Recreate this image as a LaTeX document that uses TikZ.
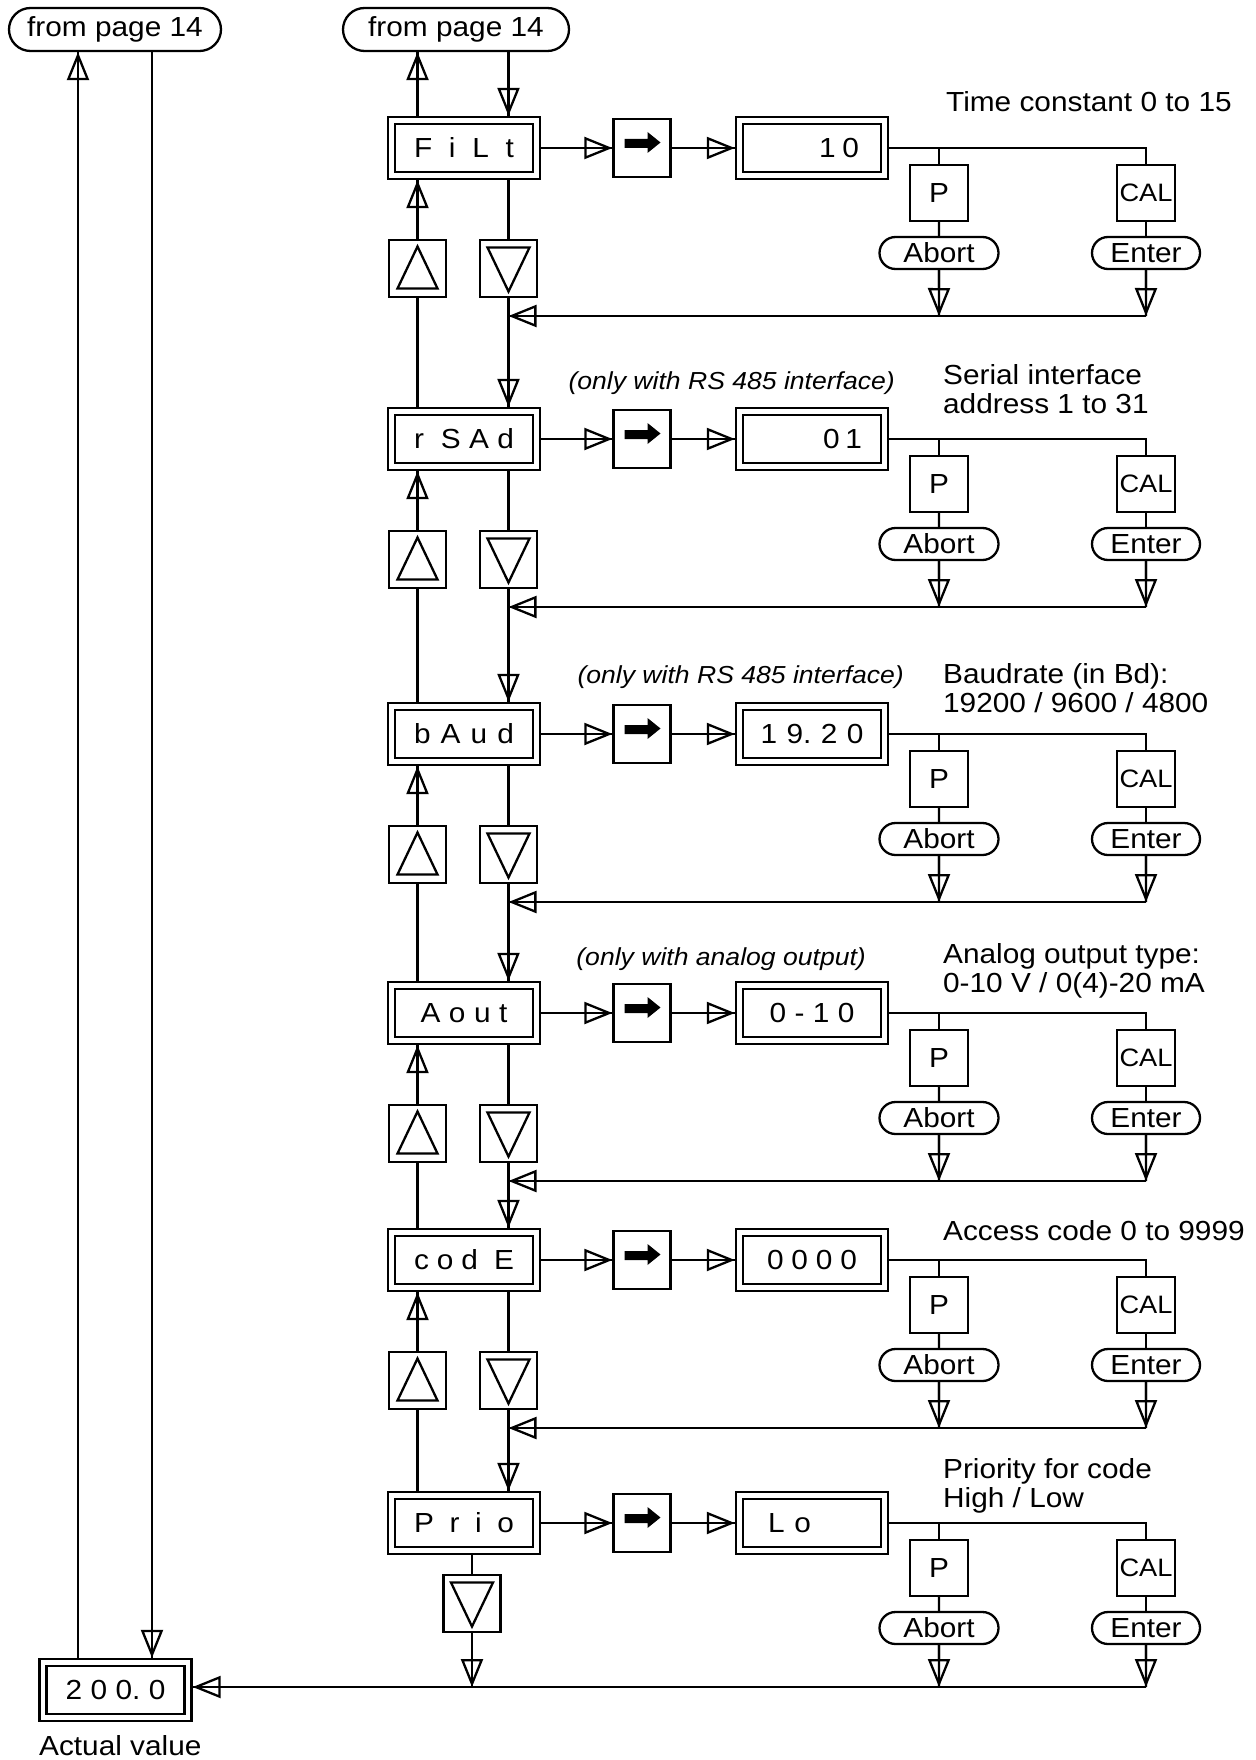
\documentclass[tikz,border=0pt]{standalone}
\usepackage{fontspec}
\setmainfont[FakeStretch=1.08]{Liberation Sans}
\usetikzlibrary{arrows.meta,shapes.misc}
\tikzset{
  menu/.style={draw, double, double distance=2.4pt, minimum width=72.5pt, minimum height=27.5pt, inner sep=0pt, outer sep=2.35pt},
  keybox/.style={draw, minimum width=28.5pt, minimum height=28.5pt, inner sep=0pt},
  gobox/.style={draw, minimum width=28.5pt, minimum height=29pt, inner sep=0pt},
  pbox/.style={draw, minimum width=29pt, minimum height=28pt, inner sep=0pt},
  pill/.style={draw, rounded rectangle, minimum height=16pt, inner sep=0pt},
  descr/.style={inner sep=0pt, align=left},
  note/.style={inner sep=0pt, font=\fontsize{12.3}{14}\selectfont\itshape},
  calkey/.style={pbox, font=\fontsize{12.6}{14}\selectfont},
  flow/.style={-{Triangle[open,length=14pt,width=11pt]}, postaction={draw,arrows=-}},
  upkey/.pic={\draw (0,-22) -- (20,20) -- (-20,20) -- cycle;},
  downkey/.pic={\draw (-21,-21) -- (21,-21) -- (0,23) -- cycle;},
  fatarrow/.pic={\fill (-17.5,-9) -- (5.5,-9) -- (5.5,-16) -- (18.5,-5.5) -- (5.5,5) -- (5.5,0) -- (-17.5,0) -- cycle;},
}

\begin{document}
\begin{tikzpicture}[x=0.5pt, y=-0.5pt, line width=1.15pt, font=\fontsize{13.8}{14.6}\selectfont]
\useasboundingbox (0,0) rectangle (1255,1760);

\node[pill, minimum width=106pt, minimum height=21.5pt] (frompl) at (115,29.5) {from page 14};
\node[pill, minimum width=113pt, minimum height=21.5pt] (frompr) at (456,29.5) {from page 14};
\node[menu] (act) at (115.5,1690) {\makebox[50pt][s]{2\hfill 0\hfill 0.\hfill 0}};
\node[descr, anchor=base west] (acttxt) at (38,1755) {Actual value};
\coordinate (actup) at (78,0);
\coordinate (actdn) at (152,0);
\draw[flow] (act.north -| actup) -- (frompl.south -| actup);
\draw[flow] (frompl.south -| actdn) -- (act.north -| actdn);

\node[menu] (filt) at (464,148) {\makebox[50pt][s]{F\hfill i\hfill L\hfill t}};
\node[keybox] (filtup) at (417.5,268.5) {};
\node[keybox] (filtdn) at (508.5,268.5) {};
\pic at (filtup) {upkey};
\pic at (filtdn) {downkey};
\node[gobox] (filtgo) at (642,148) {};
\pic at (filtgo) {fatarrow};
\node[menu] (filtval) at (812,148) {\makebox[47pt][r]{\makebox[20pt][s]{1\hfill 0}}};
\node[pbox] (filtp) at (939,193) {P};
\node[calkey] (filtcal) at (1146,193) {CAL};
\node[pill, minimum width=59.5pt] (filtab) at (939,253) {Abort};
\node[pill, minimum width=54pt] (filten) at (1146,253) {Enter};
\coordinate (filtret) at (508.5,316);
\node[descr, anchor=base west] (filttxt) at (945,112) {Time constant 0 to 15};
\draw[flow] (filt.north -| filtup) -- (frompr.south -| filtup);
\draw[flow] (frompr.south -| filtdn) -- (filt.north -| filtdn);
\draw[flow] (filt) -- (filtgo);
\draw[flow] (filtgo) -- (filtval);
\draw (filtval) -| (filtcal);
\draw (filtp) -- (filtp |- filtval);
\draw (filtp) -- (filtab);
\draw (filtcal) -- (filten);
\draw[flow] (filtab) -- (filtab |- filtret);
\draw[flow] (filten) -- (filten |- filtret);
\draw[flow] (filten |- filtret) -- (filtret);
\draw[flow] (filtup) -- (filtup |- filt.south);
\draw (filt.south -| filtdn) -- (filtdn);

\node[menu] (rsad) at (464,439) {\makebox[50pt][s]{r\hfill\hfill S\hfill A\hfill d}};
\node[keybox] (rsadup) at (417.5,559.5) {};
\node[keybox] (rsaddn) at (508.5,559.5) {};
\pic at (rsadup) {upkey};
\pic at (rsaddn) {downkey};
\node[gobox] (rsadgo) at (642,439) {};
\pic at (rsadgo) {fatarrow};
\node[menu] (rsadval) at (812,439) {\makebox[50pt][r]{\makebox[19.5pt][s]{0\hfill 1}}};
\node[pbox] (rsadp) at (939,484) {P};
\node[calkey] (rsadcal) at (1146,484) {CAL};
\node[pill, minimum width=59.5pt] (rsadab) at (939,544) {Abort};
\node[pill, minimum width=54pt] (rsaden) at (1146,544) {Enter};
\coordinate (rsadret) at (508.5,607);
\node[note, anchor=base east] (rsadnote) at (896,389) {(only with RS 485 interface)};
\node[descr, anchor=north west] (rsadtxt) at (942,363.5) {Serial interface\\address 1 to 31};
\draw (rsad.north -| filtup) -- (filtup);
\draw[flow] (filtdn) -- (rsad.north -| filtdn);
\draw[flow] (rsad) -- (rsadgo);
\draw[flow] (rsadgo) -- (rsadval);
\draw (rsadval) -| (rsadcal);
\draw (rsadp) -- (rsadp |- rsadval);
\draw (rsadp) -- (rsadab);
\draw (rsadcal) -- (rsaden);
\draw[flow] (rsadab) -- (rsadab |- rsadret);
\draw[flow] (rsaden) -- (rsaden |- rsadret);
\draw[flow] (rsaden |- rsadret) -- (rsadret);
\draw[flow] (rsadup) -- (rsadup |- rsad.south);
\draw (rsad.south -| rsaddn) -- (rsaddn);

\node[menu] (baud) at (464,734) {\makebox[50pt][s]{b\hfill A\hfill u\hfill d}};
\node[keybox] (baudup) at (417.5,854.5) {};
\node[keybox] (bauddn) at (508.5,854.5) {};
\pic at (baudup) {upkey};
\pic at (bauddn) {downkey};
\node[gobox] (baudgo) at (642,734) {};
\pic at (baudgo) {fatarrow};
\node[menu] (baudval) at (812,734) {\makebox[51.5pt][s]{1\hfill 9.\hfill 2\hfill 0}};
\node[pbox] (baudp) at (939,779) {P};
\node[calkey] (baudcal) at (1146,779) {CAL};
\node[pill, minimum width=59.5pt] (baudab) at (939,839) {Abort};
\node[pill, minimum width=54pt] (bauden) at (1146,839) {Enter};
\coordinate (baudret) at (508.5,902);
\node[note, anchor=base east] (baudnote) at (905,683) {(only with RS 485 interface)};
\node[descr, anchor=north west] (baudtxt) at (942,662.5) {Baudrate (in Bd):\\19200 / 9600 / 4800};
\draw (baud.north -| rsadup) -- (rsadup);
\draw[flow] (rsaddn) -- (baud.north -| rsaddn);
\draw[flow] (baud) -- (baudgo);
\draw[flow] (baudgo) -- (baudval);
\draw (baudval) -| (baudcal);
\draw (baudp) -- (baudp |- baudval);
\draw (baudp) -- (baudab);
\draw (baudcal) -- (bauden);
\draw[flow] (baudab) -- (baudab |- baudret);
\draw[flow] (bauden) -- (bauden |- baudret);
\draw[flow] (bauden |- baudret) -- (baudret);
\draw[flow] (baudup) -- (baudup |- baud.south);
\draw (baud.south -| bauddn) -- (bauddn);

\node[menu] (aout) at (464,1013) {\makebox[43.5pt][s]{A\hfill o\hfill u\hfill t}};
\node[keybox] (aoutup) at (417.5,1133.5) {};
\node[keybox] (aoutdn) at (508.5,1133.5) {};
\pic at (aoutup) {upkey};
\pic at (aoutdn) {downkey};
\node[gobox] (aoutgo) at (642,1013) {};
\pic at (aoutgo) {fatarrow};
\node[menu] (aoutval) at (812,1013) {\makebox[42.5pt][s]{0\hfill -\hfill 1\hfill 0}};
\node[pbox] (aoutp) at (939,1058) {P};
\node[calkey] (aoutcal) at (1146,1058) {CAL};
\node[pill, minimum width=59.5pt] (aoutab) at (939,1118) {Abort};
\node[pill, minimum width=54pt] (aouten) at (1146,1118) {Enter};
\coordinate (aoutret) at (508.5,1181);
\node[note, anchor=base east] (aoutnote) at (867,965) {(only with analog output)};
\node[descr, anchor=north west] (aouttxt) at (942,942.5) {Analog output type:\\0-10 V / 0(4)-20 mA};
\draw (aout.north -| baudup) -- (baudup);
\draw[flow] (bauddn) -- (aout.north -| bauddn);
\draw[flow] (aout) -- (aoutgo);
\draw[flow] (aoutgo) -- (aoutval);
\draw (aoutval) -| (aoutcal);
\draw (aoutp) -- (aoutp |- aoutval);
\draw (aoutp) -- (aoutab);
\draw (aoutcal) -- (aouten);
\draw[flow] (aoutab) -- (aoutab |- aoutret);
\draw[flow] (aouten) -- (aouten |- aoutret);
\draw[flow] (aouten |- aoutret) -- (aoutret);
\draw[flow] (aoutup) -- (aoutup |- aout.south);
\draw (aout.south -| aoutdn) -- (aoutdn);

\node[menu] (code) at (464,1260) {\makebox[50pt][s]{c\hfill o\hfill d\hfill\hfill E}};
\node[keybox] (codeup) at (417.5,1380.5) {};
\node[keybox] (codedn) at (508.5,1380.5) {};
\pic at (codeup) {upkey};
\pic at (codedn) {downkey};
\node[gobox] (codego) at (642,1260) {};
\pic at (codego) {fatarrow};
\node[menu] (codeval) at (812,1260) {\makebox[45pt][s]{0\hfill 0\hfill 0\hfill 0}};
\node[pbox] (codep) at (939,1305) {P};
\node[calkey] (codecal) at (1146,1305) {CAL};
\node[pill, minimum width=59.5pt] (codeab) at (939,1365) {Abort};
\node[pill, minimum width=54pt] (codeen) at (1146,1365) {Enter};
\coordinate (coderet) at (508.5,1428);
\node[descr, anchor=base west] (codetxt) at (942,1240) {Access code 0 to 9999};
\draw (code.north -| aoutup) -- (aoutup);
\draw[flow] (aoutdn) -- (code.north -| aoutdn);
\draw[flow] (code) -- (codego);
\draw[flow] (codego) -- (codeval);
\draw (codeval) -| (codecal);
\draw (codep) -- (codep |- codeval);
\draw (codep) -- (codeab);
\draw (codecal) -- (codeen);
\draw[flow] (codeab) -- (codeab |- coderet);
\draw[flow] (codeen) -- (codeen |- coderet);
\draw[flow] (codeen |- coderet) -- (coderet);
\draw[flow] (codeup) -- (codeup |- code.south);
\draw (code.south -| codedn) -- (codedn);

\node[menu] (prio) at (464,1523) {\makebox[50pt][s]{P\hfill r\hfill i\hfill o}};
\node[keybox] (priodn) at (472,1603.5) {};
\pic at (priodn) {downkey};
\node[gobox] (priogo) at (642,1523) {};
\pic at (priogo) {fatarrow};
\node[menu] (prioval) at (812,1523) {\makebox[44pt][l]{\makebox[21.5pt][s]{L\hfill o}}};
\node[pbox] (priop) at (939,1568) {P};
\node[calkey] (priocal) at (1146,1568) {CAL};
\node[pill, minimum width=59.5pt] (prioab) at (939,1628) {Abort};
\node[pill, minimum width=54pt] (prioen) at (1146,1628) {Enter};
\coordinate (prioret) at (472,1687);
\node[descr, anchor=north west] (priotxt) at (942,1457.5) {Priority for code\\High / Low};
\draw (prio.north -| codeup) -- (codeup);
\draw[flow] (codedn) -- (prio.north -| codedn);
\draw[flow] (prio) -- (priogo);
\draw[flow] (priogo) -- (prioval);
\draw (prioval) -| (priocal);
\draw (priop) -- (priop |- prioval);
\draw (priop) -- (prioab);
\draw (priocal) -- (prioen);
\draw (prio.south -| priodn) -- (priodn);
\draw[flow] (priodn) -- (prioret);
\draw[flow] (prioab) -- (prioab |- prioret);
\draw[flow] (prioen) -- (prioen |- prioret);
\draw[flow] (prioen |- prioret) -- (act.east |- prioret);
\end{tikzpicture}
\end{document}
